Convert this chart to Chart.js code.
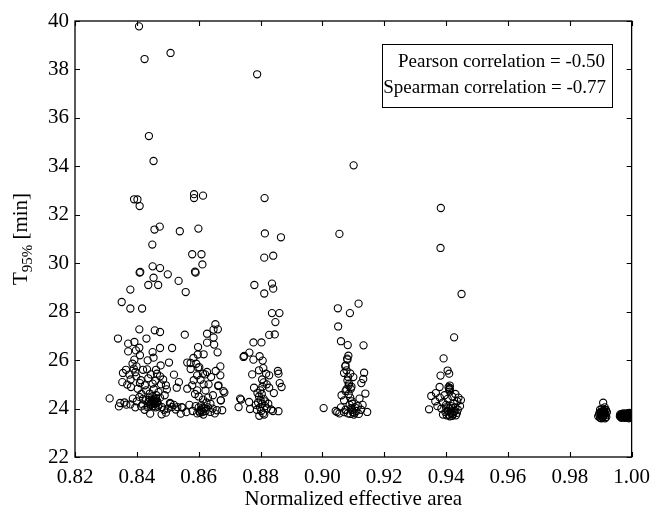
<!DOCTYPE html>
<html>
<head>
<meta charset="utf-8">
<script src="https://cdn.jsdelivr.net/npm/chart.js@4/dist/chart.umd.min.js"></script>
<style>
html,body{margin:0;padding:0;background:#fff;}
#wrap{width:658px;height:509px;position:relative;}
</style>
</head>
<body>
<div id="wrap"><canvas id="c" width="658" height="509"></canvas></div>
<script>
// ---------- data ----------
const xTicks = [0.82,0.84,0.86,0.88,0.90,0.92,0.94,0.96,0.98,1.00];
const yTicks = [22,24,26,28,30,32,34,36,38,40];
const xTitle = "Normalized effective area";
const yTitleMain = "T", yTitleSub = "95%", yTitleUnit = " [min]";
const statLines = ["Pearson correlation = -0.50","Spearman correlation = -0.77"];

const groupA = [
[0.8407,39.78],[0.8425,38.43],[0.8509,38.68],[0.8439,35.25],[0.8454,34.22],[0.8391,32.64],[0.8402,32.63],[0.8409,32.36],
[0.8457,31.39],[0.8474,31.51],[0.8539,31.32],[0.8450,30.77],[0.8451,29.87],[0.8475,29.80],[0.8500,29.54],[0.8409,29.61],
[0.8411,29.64],[0.8454,29.40],[0.8437,29.10],[0.8469,29.10],[0.8535,29.27],[0.8558,28.81],[0.8379,28.91],[0.8351,28.40],
[0.8379,28.13],[0.8417,28.13],
[0.8408,27.27],[0.8458,27.23],[0.8475,27.16],[0.8431,26.89],[0.8339,26.89],[0.8372,26.68],[0.8392,26.75],[0.8372,26.36],
[0.8397,26.40],[0.8408,26.51],[0.8475,26.50],[0.8514,26.50],[0.8451,26.33],[0.8454,26.10],[0.8435,25.99],[0.8392,26.02],
[0.8399,25.74],[0.8390,25.65],[0.8477,25.78],[0.8504,25.90],[0.8433,25.62],[0.8355,25.47],[0.8376,25.40],[0.8353,25.09],
[0.8369,24.99],[0.8398,25.33],[0.8413,25.17],[0.8445,25.41],[0.8465,25.44],[0.8475,25.33],[0.8520,25.40],[0.8536,25.09],
[0.8451,25.03],[0.8426,24.96],[0.8381,24.89],[0.8403,24.82],[0.8494,24.96],[0.8497,24.79],[0.8529,24.86],[0.8470,24.68],
[0.8387,24.41],[0.8408,24.48],[0.8312,24.42],[0.8346,24.23],[0.8342,24.09],[0.8366,24.16],[0.8379,24.17],[0.8419,24.17],
[0.8414,24.09],
[0.8440,24.45],[0.8448,24.38],[0.8455,24.30],[0.8460,24.22],[0.8445,24.15],[0.8452,24.10],[0.8458,24.40],[0.8463,24.55],
[0.8438,24.28],[0.8450,24.50],[0.8442,24.62],[0.8466,24.30],[0.8435,24.05],[0.8470,24.15],[0.8447,24.25],[0.8456,24.20],
[0.8449,24.33],[0.8461,24.05],[0.8430,24.35],[0.8475,24.45],
[0.8443,23.79],[0.8480,23.76],[0.8494,23.83],[0.8513,24.06],[0.8526,23.96],[0.8542,23.79],[0.8545,24.06],[0.8507,24.23],
[0.8481,24.06],[0.8465,24.23],[0.8425,23.95],[0.8395,24.05],[0.8360,24.25],[0.8488,23.95],[0.8520,24.15],[0.8500,24.00],
[0.8386,25.85],[0.8410,25.05],[0.8420,25.60],[0.8437,25.25],[0.8460,25.15],[0.8485,25.20],[0.8430,24.75],[0.8415,24.60],
[0.8455,24.80],[0.8395,25.50],[0.8365,25.60],[0.8380,25.20],[0.8410,26.20],[0.8462,25.60],[0.8478,25.00],[0.8490,24.55],
[0.8400,24.30],[0.8420,24.40],[0.8453,24.35],[0.8457,24.27],[0.8444,24.20],[0.8462,24.42],[0.8436,24.12],[0.8468,24.08]
];
const groupB = [
[0.8585,32.85],[0.8585,32.69],[0.8614,32.79],[0.8599,31.43],[0.8579,30.37],[0.8609,30.37],[0.8612,29.95],[0.8590,29.61],
[0.8588,29.65],
[0.8654,27.48],[0.8662,27.27],[0.8648,27.26],[0.8627,27.09],[0.8555,27.05],[0.8648,26.93],[0.8627,26.72],[0.8650,26.64],
[0.8598,26.54],[0.8661,26.32],[0.8597,26.23],[0.8616,26.24],[0.8583,26.09],[0.8563,25.90],[0.8592,25.85],[0.8574,25.63],
[0.8598,25.69],[0.8670,25.74],[0.8614,25.44],[0.8627,25.51],[0.8670,25.37],[0.8595,25.37],[0.8584,25.17],[0.8606,25.19],
[0.8579,24.96],[0.8616,25.00],[0.8632,25.00],[0.8664,24.96],[0.8563,24.82],[0.8595,24.75],[0.8622,24.75],[0.8680,24.72],
[0.8672,24.34],[0.8614,24.37],[0.8638,24.20],[0.8509,24.20],[0.8531,24.06],[0.8547,24.04],[0.8638,23.86],[0.8659,23.93],
[0.8729,24.06],[0.8734,24.41],[0.8745,26.13],[0.8683,24.66],[0.8663,24.93],[0.8621,25.41],[0.8602,25.71],[0.8574,25.88],
[0.8600,24.05],[0.8606,23.95],[0.8612,23.85],[0.8618,24.00],[0.8595,23.80],[0.8608,24.15],[0.8622,23.90],[0.8590,24.10],
[0.8615,23.75],[0.8603,23.88],[0.8630,24.05],[0.8580,23.90],[0.8570,24.15],[0.8645,24.00],[0.8652,23.80],[0.8625,24.25],
[0.8560,23.85],[0.8640,25.30],[0.8655,25.55],[0.8646,24.55],[0.8600,24.50],[0.8588,24.60],[0.8630,24.45],[0.8676,23.93],
[0.8671,24.34],[0.8609,23.92],[0.8613,24.03],[0.8604,23.82]
];
const groupC = [
[0.8789,37.80],[0.8813,32.69],[0.8814,31.23],[0.8866,31.07],[0.8812,30.23],[0.8841,30.31],[0.8780,29.10],[0.8837,29.16],
[0.8841,28.95],[0.8812,28.75],[0.8837,27.94],[0.8861,27.94],[0.8848,27.57],[0.8828,27.04],[0.8846,27.06],
[0.8777,26.73],[0.8803,26.73],[0.8764,26.31],[0.8747,26.17],[0.8777,26.02],[0.8797,26.16],[0.8807,25.98],[0.8809,25.67],
[0.8795,25.58],[0.8818,25.44],[0.8828,25.37],[0.8773,25.41],[0.8856,25.55],[0.8858,25.44],[0.8862,25.05],[0.8868,24.89],
[0.8810,25.08],[0.8779,24.86],[0.8790,24.64],[0.8828,24.86],[0.8843,24.64],[0.8737,24.37],[0.8763,24.27],[0.8766,23.98],
[0.8858,23.89],[0.8834,23.96],
[0.8795,24.50],[0.8800,24.35],[0.8805,24.20],[0.8798,24.05],[0.8802,23.90],[0.8808,23.80],[0.8796,23.70],[0.8810,24.40],
[0.8792,24.25],[0.8804,24.60],[0.8815,24.10],[0.8788,23.95],[0.8812,23.75],[0.8820,24.00],[0.8799,24.75],[0.8806,24.90],
[0.8815,24.30],[0.8785,24.15],[0.8825,24.20],[0.8840,23.90],[0.8820,25.00],[0.8805,25.20]
];
const groupD = [
[0.9101,34.04],[0.9055,31.21],[0.9050,28.14],[0.9089,27.94],[0.9117,28.33],[0.9051,27.39],[0.9060,26.78],[0.9082,26.62],
[0.9133,26.61],[0.9084,26.18],[0.9081,26.02],[0.9075,25.78],[0.9070,25.47],[0.9135,25.48],[0.9132,25.22],[0.9126,25.05],
[0.9139,24.62],[0.9081,25.16],[0.9075,24.72],[0.9070,24.34],[0.9004,24.02],[0.9043,23.90],[0.9097,24.20],[0.9120,24.41],
[0.9145,23.86],[0.9078,25.58],[0.9074,25.74],[0.9086,25.03],[0.9092,24.82],[0.9062,24.55],[0.9080,26.06],
[0.9085,24.60],[0.9090,24.45],[0.9095,24.30],[0.9088,24.15],[0.9092,24.00],[0.9098,23.85],[0.9102,23.75],[0.9082,23.80],
[0.9075,23.95],[0.9105,24.05],[0.9110,23.90],[0.9115,24.10],[0.9070,23.85],[0.9060,24.05],[0.9055,23.80],[0.9048,23.85],
[0.9118,23.78],[0.9125,23.95],[0.9130,24.15],[0.9094,24.90],[0.9085,24.95],[0.9100,25.30],[0.9090,25.45],[0.9083,25.30],
[0.9078,24.80],[0.9096,23.95],[0.9104,23.82],[0.9090,23.78]
];
const groupE = [
[0.9383,32.28],[0.9382,30.63],[0.9450,28.73],[0.9426,26.94],[0.9392,26.07],[0.9405,25.57],[0.9410,25.44],[0.9382,25.36],
[0.9379,24.89],[0.9412,24.85],[0.9352,24.52],[0.9367,24.64],[0.9345,23.97],
[0.9410,24.80],[0.9412,24.70],[0.9395,24.55],[0.9405,24.40],[0.9420,24.50],[0.9430,24.60],[0.9440,24.45],[0.9436,24.30],
[0.9425,24.20],[0.9415,24.10],[0.9400,24.05],[0.9390,24.25],[0.9385,24.00],[0.9398,23.85],[0.9408,23.75],[0.9418,23.80],
[0.9428,23.90],[0.9438,23.95],[0.9445,24.10],[0.9420,23.70],[0.9405,23.90],[0.9430,24.05],[0.9390,23.75],[0.9372,24.10],
[0.9365,24.30],[0.9380,24.45],[0.9448,24.35],[0.9412,24.95],[0.9400,24.15],[0.9425,23.85],
[0.9402,23.72],[0.9412,23.68],[0.9422,23.76],[0.9432,23.72],[0.9415,23.88],[0.9435,23.82],[0.9410,24.00],[0.9420,24.02],
[0.9408,24.88],[0.9411,24.78]
];
const groupF = [
[0.9908,24.24],[0.9905,24.00],[0.9912,23.95],[0.9900,23.85],[0.9915,23.80],[0.9895,23.75],[0.9908,23.70],[0.9918,23.65],
[0.9902,23.60],[0.9910,23.90],[0.9898,23.95],[0.9913,24.05],[0.9906,23.78],[0.9892,23.68],[0.9920,23.85],
[0.9904,23.66],[0.9910,23.72],[0.9898,23.62],[0.9914,23.60],[0.9903,23.82],[0.9909,23.86],[0.9916,23.73],
[0.9907,23.64],[0.9901,23.74],[0.9911,23.81],[0.9905,23.88],[0.9896,23.82],[0.9917,23.94]
];
const groupG = [
[0.9970,23.70],[0.9975,23.75],[0.9980,23.68],[0.9985,23.72],[0.9990,23.76],[0.9995,23.70],[1.0000,23.72],[0.9978,23.62],
[0.9988,23.64],[0.9998,23.64],[0.9968,23.78],[0.9983,23.80],[0.9993,23.82],[0.9972,23.66],[0.9992,23.60],[1.0000,23.80],
[0.9965,23.72],[0.9962,23.68],[0.9967,23.62],[0.9974,23.80],[0.9979,23.74],[0.9986,23.66],[0.9991,23.70],[0.9997,23.76],
[0.9963,23.76],[0.9969,23.72],[0.9976,23.68],[0.9982,23.63],[0.9987,23.78],[0.9996,23.66],[0.9973,23.73],[0.9981,23.71],
[0.9964,23.70],[0.9966,23.74],[0.9971,23.69],[0.9977,23.71],[0.9984,23.69],[0.9989,23.73],[0.9994,23.74],[0.9999,23.70],
[0.9975,23.65],[0.9985,23.76],[0.9965,23.66],[0.9995,23.78]
];

const groups = [groupA, groupB, groupC, groupD, groupE, groupF, groupG];

// ---------- chart ----------
const SERIF = '"Liberation Serif", "Times New Roman", serif';
const PLOT = {left: 75, right: 637, top: 21, bottom: 457};

const framePlugin = {
  id: 'frame',
  afterDraw(chart) {
    const {ctx, chartArea: a, scales: {x, y}} = chart;
    ctx.save();
    ctx.strokeStyle = '#000';
    ctx.lineWidth = 1.3;
    ctx.strokeRect(a.left, a.top, a.right - a.left, a.bottom - a.top);
    ctx.lineWidth = 1.1;
    ctx.beginPath();
    const tl = 5;
    xTicks.forEach(v => {
      const px = Math.round(x.getPixelForValue(v)) + 0.5;
      ctx.moveTo(px, a.bottom); ctx.lineTo(px, a.bottom - tl);
      ctx.moveTo(px, a.top); ctx.lineTo(px, a.top + tl);
    });
    yTicks.forEach(v => {
      const py = Math.round(y.getPixelForValue(v)) + 0.5;
      ctx.moveTo(a.left, py); ctx.lineTo(a.left + tl, py);
      ctx.moveTo(a.right, py); ctx.lineTo(a.right - tl, py);
    });
    ctx.stroke();

    // x title
    ctx.fillStyle = '#000';
    ctx.font = '21px ' + SERIF;
    ctx.textAlign = 'center';
    ctx.textBaseline = 'alphabetic';
    ctx.fillText(xTitle, (a.left + a.right) / 2, 505);

    // y title with subscript
    ctx.save();
    ctx.translate(27, (a.top + a.bottom) / 2);
    ctx.rotate(-Math.PI / 2);
    ctx.textAlign = 'left';
    const fMain = '21px ' + SERIF, fSub = '15px ' + SERIF;
    ctx.font = fMain; const w1 = ctx.measureText(yTitleMain).width;
    ctx.font = fSub;  const w2 = ctx.measureText(yTitleSub).width;
    ctx.font = fMain; const w3 = ctx.measureText(yTitleUnit).width;
    let x0 = -(w1 + w2 + w3) / 2;
    ctx.font = fMain; ctx.fillText(yTitleMain, x0, 0);
    ctx.font = fSub;  ctx.fillText(yTitleSub, x0 + w1, 5);
    ctx.font = fMain; ctx.fillText(yTitleUnit, x0 + w1 + w2, 0);
    ctx.restore();

    // statistics box
    ctx.lineWidth = 1;
    ctx.strokeRect(382.5, 44.5, 230, 63);
    ctx.font = '19px ' + SERIF;
    ctx.textAlign = 'right';
    ctx.fillText(statLines[0], 605, 67);
    ctx.fillText(statLines[1], 606, 93);
    ctx.restore();
  }
};

new Chart(document.getElementById('c'), {
  type: 'scatter',
  data: {
    datasets: groups.map(g => ({
      data: g.map(p => ({x: p[0], y: p[1]})),
      pointStyle: 'circle',
      pointRadius: 3.6,
      pointBorderWidth: 1.1,
      pointBorderColor: '#000',
      pointBackgroundColor: 'rgba(0,0,0,0)',
      clip: 0
    }))
  },
  options: {
    responsive: false,
    animation: false,
    events: [],
    layout: {padding: {left: 0, top: PLOT.top, right: 658 - PLOT.right, bottom: 0}},
    plugins: {legend: {display: false}, tooltip: {enabled: false}},
    scales: {
      x: {
        type: 'linear', min: 0.82, max: 1.0,
        afterFit(s) { s.height = 509 - PLOT.bottom; },
        afterBuildTicks(s) { s.ticks = xTicks.map(v => ({value: v})); },
        grid: {display: false, drawTicks: false},
        border: {display: false},
        ticks: {
          padding: 8, color: '#000', font: {family: SERIF, size: 21},
          maxRotation: 0, autoSkip: false,
          callback: v => v.toFixed(2)
        }
      },
      y: {
        type: 'linear', min: 22, max: 40,
        afterFit(s) { s.width = PLOT.left; },
        afterBuildTicks(s) { s.ticks = yTicks.map(v => ({value: v})); },
        grid: {display: false, drawTicks: false},
        border: {display: false},
        ticks: {
          padding: 6, color: '#000', font: {family: SERIF, size: 21},
          autoSkip: false,
          callback: v => String(v)
        }
      }
    }
  },
  plugins: [framePlugin]
});
</script>
</body>
</html>
